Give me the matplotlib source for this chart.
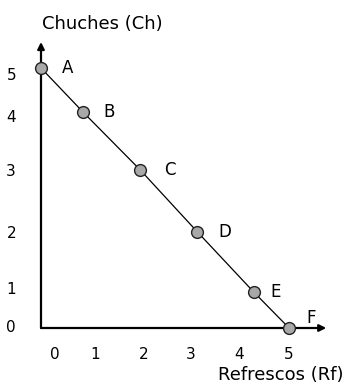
import matplotlib.pyplot as plt

# puntos de la frontera
puntos = ['A', 'B', 'C', 'D', 'E', 'F']
refrescos = [0, 0.85, 2.0, 3.15, 4.29, 5]
chuches = [5, 4.15, 3.04, 1.85, 0.69, 0]

# etiquetas de los ejes (posición en unidades del eje)
xtick_pos = [0.28, 1.09, 2.08, 3.02, 3.99, 5.0]
xtick_lab = ['0', '1', '2', '3', '4', '5']
ytick_pos = [4.88, 4.08, 3.04, 1.85, 0.77, 0.04]
ytick_lab = ['5', '4', '3', '2', '1', '0']

plt.rcParams['font.family'] = ['DejaVu Sans']

fig = plt.figure(figsize=(3.45, 3.9), dpi=100)
ax = fig.add_axes([41 / 345, 62 / 390, 0.834, 0.74])
ax.set_xlim(0, 5.8)
ax.set_ylim(0, 5.55)

for s in ax.spines.values():
    s.set_visible(False)

# ejes con flecha
ax.annotate('', xy=(5.75, 0), xytext=(0, 0),
            arrowprops=dict(arrowstyle='-|>', lw=1.6, color='black', mutation_scale=10,
                            shrinkA=0, shrinkB=0), annotation_clip=False)
ax.annotate('', xy=(0, 5.5), xytext=(0, 0),
            arrowprops=dict(arrowstyle='-|>', lw=1.6, color='black', mutation_scale=10,
                            shrinkA=0, shrinkB=0), annotation_clip=False)

ax.plot(refrescos, chuches, color='black', lw=0.9, zorder=2)
ax.plot(refrescos, chuches, 'o', ms=8.5, mfc='#a8a8a8', mec='#222222', mew=1.0,
        clip_on=False, zorder=3)

offsets = [(19, 0), (19, 0), (21, 0), (20, 0), (16, 0), (16, 7)]
for p, x, y, off in zip(puntos, refrescos, chuches, offsets):
    ax.annotate(p, (x, y), xytext=off, textcoords='offset points',
                ha='center', va='center', fontsize=12)

ax.set_xticks(xtick_pos, xtick_lab)
ax.set_yticks(ytick_pos, ytick_lab)
ax.tick_params(axis='both', length=0, labelsize=11)
ax.tick_params(axis='x', pad=14)
ax.tick_params(axis='y', pad=18)

fig.text(42 / 345, 1 - 24 / 390, 'Chuches (Ch)', ha='left', va='center', fontsize=13)
fig.text(343 / 345, 1 - 375 / 390, 'Refrescos (Rf)', ha='right', va='center', fontsize=13)

fig.savefig('out.png', dpi=100)
